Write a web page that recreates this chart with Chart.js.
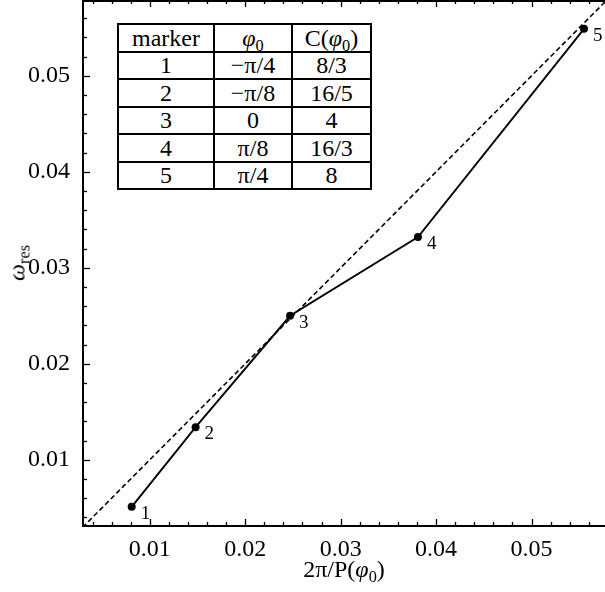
<!DOCTYPE html>
<html>
<head>
<meta charset="utf-8">
<script src="https://cdn.jsdelivr.net/npm/chart.js@4/dist/chart.umd.min.js"></script>
<style>
  body { margin: 0; background: #fff; }
  #wrap { position: relative; width: 605px; height: 592px; font-family: "Liberation Serif", "Times New Roman", serif; color: #000; }
  #wrap canvas { position: absolute; left: 0; top: 0; }
  sub { font-size: 0.68em; vertical-align: -0.28em; line-height: 0; }
  #legendTable { position: absolute; left: 117px; top: 23px; border-collapse: collapse; font-size: 24px; background: #fff; }
  #legendTable td { border: 2px solid #000; padding: 0; height: 25.5px; line-height: 24px; text-align: center; }
  #xTitle { position: absolute; left: 83px; width: 522px; top: 556px; font-size: 24px; text-align: center; }
  #yTitle { position: absolute; left: 17px; top: 263px; font-size: 24px; transform: translate(-50%, -50%) rotate(-90deg); white-space: nowrap; }
</style>
</head>
<body>
<div id="wrap">
  <canvas id="resChart" width="605" height="592"></canvas>
  <table id="legendTable"></table>
  <div id="xTitle">2π/P(<i>φ</i><sub>0</sub>)</div>
  <div id="yTitle"><i>ω</i><sub>res</sub></div>
</div>
<script>
// data
const markerIds = ["1", "2", "3", "4", "5"];
const freqX = [0.0081, 0.0148, 0.0247, 0.0381, 0.0555];
const omegaRes = [0.0051, 0.0134, 0.0250, 0.0332, 0.0549];
const diagX = [0, 0.06];
const diagY = [0, 0.06];

const xTicks = [0.01, 0.02, 0.03, 0.04, 0.05];
const yTicks = [0.01, 0.02, 0.03, 0.04, 0.05];

// table in the upper left
const tableHead = ["marker", "<i>φ</i><sub>0</sub>", "C(<i>φ</i><sub>0</sub>)"];
const phi0Labels = ["−π/4", "−π/8", "0", "π/8", "π/4"];
const cLabels = ["8/3", "16/5", "4", "16/3", "8"];
const colWidths = [94, 76, 77];

let table = document.getElementById("legendTable");
let head = "<tr>" + tableHead.map((h, i) => `<td style="width:${colWidths[i]}px">${h}</td>`).join("") + "</tr>";
let body = markerIds.map((m, i) => `<tr><td>${m}</td><td>${phi0Labels[i]}</td><td>${cLabels[i]}</td></tr>`).join("");
table.innerHTML = head + body;

const serif = "'Liberation Serif', 'Times New Roman', serif";

// inward tick marks + top frame line
const frameTicks = {
  id: "frameTicks",
  afterDraw(chart) {
    const ctx = chart.ctx;
    const area = chart.chartArea;
    const xs = chart.scales.x;
    const ys = chart.scales.y;
    ctx.save();
    ctx.strokeStyle = "#000";
    ctx.lineWidth = 2;
    ctx.beginPath();
    ctx.moveTo(area.left, area.top + 1);
    ctx.lineTo(area.right, area.top + 1);
    ctx.stroke();

    ctx.lineWidth = 1.3;
    const step = 0.002;
    for (let k = Math.ceil(xs.min / step); k * step <= xs.max; k++) {
      const px = Math.round(xs.getPixelForValue(k * step)) + 0.5;
      const len = k % 5 === 0 ? 7 : 4;
      ctx.beginPath();
      ctx.moveTo(px, area.bottom);
      ctx.lineTo(px, area.bottom - len);
      ctx.moveTo(px, area.top);
      ctx.lineTo(px, area.top + len);
      ctx.stroke();
    }
    for (let k = Math.ceil(ys.min / step); k * step <= ys.max; k++) {
      const py = Math.round(ys.getPixelForValue(k * step)) + 0.5;
      const len = k % 5 === 0 ? 7 : 4;
      ctx.beginPath();
      ctx.moveTo(area.left, py);
      ctx.lineTo(area.left + len, py);
      ctx.stroke();
    }
    ctx.restore();
  },
};

// numbers next to the markers
const markerNames = {
  id: "markerNames",
  afterDatasetsDraw(chart) {
    const ctx = chart.ctx;
    const meta = chart.getDatasetMeta(1);
    ctx.save();
    ctx.fillStyle = "#000";
    ctx.font = "19px " + serif;
    ctx.textAlign = "left";
    ctx.textBaseline = "middle";
    meta.data.forEach(function (pt, i) {
      ctx.fillText(markerIds[i], pt.x + 9, pt.y + 7);
    });
    ctx.restore();
  },
};

const ctx = document.getElementById("resChart").getContext("2d");
const resChart = new Chart(ctx, {
  type: "scatter",
  data: {
    datasets: [
      {
        data: diagX.map((x, i) => ({ x: x, y: diagY[i] })),
        showLine: true,
        borderColor: "#000",
        borderWidth: 1.6,
        borderDash: [5, 3],
        pointRadius: 0,
      },
      {
        data: freqX.map((x, i) => ({ x: x, y: omegaRes[i] })),
        showLine: true,
        borderColor: "#000",
        borderWidth: 1.9,
        backgroundColor: "#000",
        pointRadius: 4,
        pointBorderWidth: 0,
        clip: false,
      },
    ],
  },
  options: {
    responsive: false,
    animation: false,
    devicePixelRatio: 1,
    layout: { padding: 0, autoPadding: false },
    plugins: { legend: { display: false }, tooltip: { enabled: false } },
    scales: {
      x: {
        type: "linear",
        min: 0.003,
        max: 0.0577,
        grid: { display: false },
        border: { display: true, color: "#000", width: 2 },
        ticks: { color: "#000", font: { family: serif, size: 24 }, padding: 1, maxRotation: 0 },
        afterBuildTicks: function (s) { s.ticks = xTicks.map((v) => ({ value: v })); },
        afterFit: function (s) {
          s.height = 66;
          s.paddingLeft = 0;
          s.paddingRight = 0;
        },
      },
      y: {
        type: "linear",
        min: 0.0031,
        max: 0.0579,
        grid: { display: false },
        border: { display: true, color: "#000", width: 2 },
        ticks: { color: "#000", font: { family: serif, size: 24 }, padding: 5 },
        afterBuildTicks: function (s) { s.ticks = yTicks.map((v) => ({ value: v })); },
        afterFit: function (s) {
          s.width = 83;
          s.paddingTop = 0;
          s.paddingBottom = 0;
        },
      },
    },
  },
  plugins: [frameTicks, markerNames],
});
</script>
</body>
</html>
